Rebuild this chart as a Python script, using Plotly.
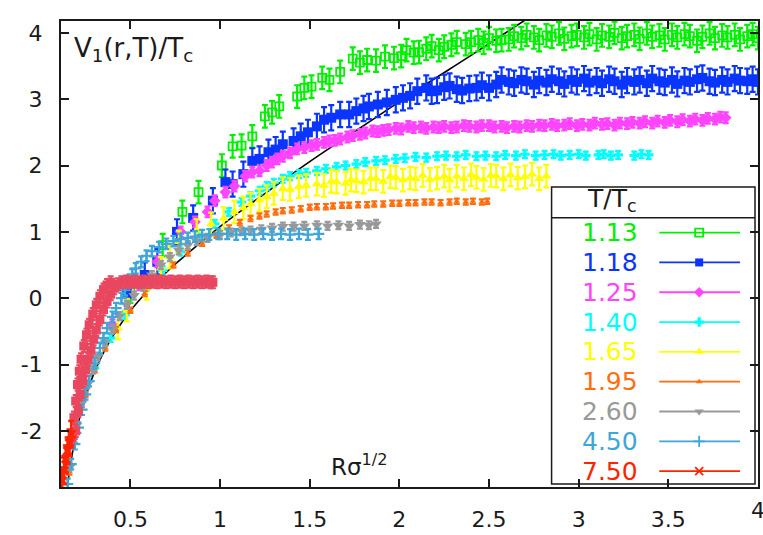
import plotly.graph_objects as go

# ---------------------------------------------------------------
# V_1(r,T)/T_c versus r*sqrt(sigma) for several temperatures T/T_c
# ---------------------------------------------------------------

# shared far-distance grid used by the two lowest temperatures
r_far = [2.61, 2.64, 2.68, 2.71, 2.75, 2.78, 2.82, 2.85, 2.89, 2.92,
         2.96, 2.99, 3.03, 3.06, 3.10, 3.13, 3.17, 3.20, 3.24, 3.27,
         3.31, 3.34, 3.38, 3.41, 3.45, 3.48, 3.52, 3.55, 3.59, 3.62,
         3.66, 3.69, 3.73, 3.76, 3.80, 3.83, 3.87, 3.90, 3.94, 3.97,
         4.00]

# T/Tc = 1.13
r_113 = [0.50, 0.68, 0.79, 0.88, 1.01, 1.07, 1.12, 1.18, 1.25, 1.29,
         1.33, 1.43, 1.47, 1.51, 1.57, 1.61, 1.67, 1.74, 1.78, 1.82,
         1.87, 1.92, 1.97, 2.01, 2.04, 2.08, 2.11, 2.15, 2.18, 2.22,
         2.25, 2.29, 2.32, 2.37, 2.40, 2.44, 2.47, 2.50, 2.54, 2.57] + r_far
v_113 = [0.10, 0.80, 1.30, 1.60, 2.00, 2.29, 2.30, 2.44, 2.74, 2.80,
         2.89, 3.04, 3.17, 3.19, 3.32, 3.29, 3.41, 3.61, 3.55, 3.59,
         3.58, 3.64, 3.62, 3.65, 3.74, 3.70, 3.71, 3.76, 3.80, 3.74,
         3.79, 3.82, 3.86, 3.83, 3.86, 3.89, 3.85, 3.92, 3.88, 3.89,
         3.90, 3.95, 3.92, 3.97, 3.93, 3.89, 3.96, 3.94, 3.99, 3.91,
         3.95, 3.97, 3.93, 3.98, 3.90, 3.96, 3.94, 4.00, 3.92, 3.95,
         3.97, 3.91, 3.99, 3.94, 3.96, 3.90, 3.97, 3.93, 3.98, 3.95,
         3.88, 3.94, 3.99, 3.92, 3.96, 3.93, 3.97, 3.90, 3.95, 3.98,
         3.92]

# T/Tc = 1.18
r_118 = [0.48, 0.58, 0.65, 0.76, 0.85, 0.96, 1.03, 1.07, 1.13, 1.18,
         1.22, 1.27, 1.31, 1.35, 1.41, 1.45, 1.49, 1.54, 1.58, 1.62,
         1.67, 1.72, 1.76, 1.80, 1.83, 1.88, 1.93, 1.98, 2.02, 2.06,
         2.10, 2.15, 2.18, 2.21, 2.25, 2.28, 2.32, 2.35, 2.39, 2.43,
         2.46, 2.50, 2.54, 2.57] + r_far
v_118 = [0.07, 0.35, 0.55, 1.00, 1.21, 1.47, 1.75, 1.72, 1.87, 2.07,
         2.10, 2.20, 2.24, 2.32, 2.37, 2.44, 2.50, 2.59, 2.69, 2.72,
         2.77, 2.77, 2.82, 2.86, 2.89, 2.92, 2.95, 2.99, 3.02, 3.05,
         3.12, 3.17, 3.12, 3.13, 3.18, 3.20, 3.15, 3.13, 3.16, 3.17,
         3.21, 3.17, 3.22, 3.29,
         3.26, 3.24, 3.29, 3.27, 3.22, 3.28, 3.25, 3.30, 3.27, 3.23,
         3.29, 3.26, 3.31, 3.25, 3.28, 3.24, 3.30, 3.27, 3.22, 3.28,
         3.26, 3.29, 3.24, 3.31, 3.27, 3.25, 3.29, 3.23, 3.28, 3.26,
         3.30, 3.32, 3.27, 3.25, 3.29, 3.26, 3.31, 3.28, 3.27, 3.30,
         3.26]

# T/Tc = 1.25
r_125 = [0.40, 0.55, 0.65, 0.78, 0.86, 0.93, 0.97, 1.03, 1.08, 1.14,
         1.18, 1.22, 1.26, 1.29, 1.32, 1.35, 1.39, 1.43, 1.47, 1.51,
         1.54, 1.58, 1.61, 1.64, 1.67, 1.71, 1.74, 1.78, 1.81, 1.85,
         1.88, 1.91, 1.94, 1.98, 2.01, 2.05, 2.08, 2.12, 2.15, 2.19,
         2.22, 2.25, 2.29, 2.32, 2.36, 2.39, 2.43, 2.46, 2.50, 2.53,
         2.57, 2.60, 2.64, 2.67, 2.71, 2.74, 2.78, 2.81, 2.85, 2.88,
         2.92, 2.95, 2.99, 3.02, 3.06, 3.09, 3.13, 3.16, 3.20, 3.23,
         3.27, 3.30, 3.34, 3.37, 3.41, 3.44, 3.48, 3.51, 3.55, 3.58,
         3.62, 3.65, 3.69, 3.72, 3.76, 3.79, 3.82]
v_125 = [-0.40, 0.20, 0.55, 1.00, 1.15, 1.30, 1.47, 1.60, 1.69, 1.84,
         1.90, 1.92, 2.00, 2.05, 2.10, 2.14, 2.19, 2.25, 2.27, 2.30,
         2.32, 2.35, 2.37, 2.38, 2.40, 2.43, 2.45, 2.47, 2.49, 2.52,
         2.51, 2.53, 2.54, 2.56, 2.55, 2.59, 2.57, 2.58, 2.56, 2.58,
         2.57, 2.59, 2.57, 2.58, 2.60, 2.59, 2.58, 2.60, 2.60, 2.58,
         2.59, 2.57, 2.59, 2.58, 2.60, 2.59, 2.61, 2.60, 2.62, 2.60,
         2.61, 2.63, 2.60, 2.62, 2.61, 2.64, 2.62, 2.63, 2.61, 2.64,
         2.63, 2.65, 2.64, 2.66, 2.64, 2.67, 2.65, 2.68, 2.66, 2.69,
         2.67, 2.70, 2.68, 2.71, 2.70, 2.73, 2.72]

# T/Tc = 1.40
r_140 = [0.30, 0.39, 0.47, 0.58, 0.68, 0.78, 0.88, 0.97, 1.05, 1.12,
         1.17, 1.22, 1.26, 1.30, 1.35, 1.39, 1.44, 1.48, 1.54, 1.59,
         1.65, 1.70, 1.76, 1.81, 1.87, 1.92, 1.98, 2.03, 2.09, 2.15,
         2.21, 2.26, 2.32, 2.37, 2.43, 2.48, 2.54, 2.59, 2.65, 2.70,
         2.76, 2.81, 2.86, 2.90, 2.95, 3.00, 3.04, 3.11, 3.14, 3.18,
         3.22, 3.31, 3.35, 3.39]
v_140 = [-1.05, -0.60, -0.25, 0.12, 0.42, 0.70, 0.92, 1.12, 1.30, 1.45,
         1.54, 1.62, 1.69, 1.74, 1.80, 1.84, 1.87, 1.89, 1.92, 1.95,
         1.98, 2.00, 2.02, 2.05, 2.07, 2.08, 2.10, 2.11, 2.13, 2.12,
         2.14, 2.15, 2.14, 2.16, 2.14, 2.15, 2.14, 2.16, 2.15, 2.17,
         2.15, 2.16, 2.17, 2.15, 2.16, 2.17, 2.15, 2.16, 2.17, 2.15,
         2.16, 2.15, 2.17, 2.16]

# T/Tc = 1.65
r_165 = [0.43, 0.48, 0.59, 0.67, 0.72, 0.77, 0.87, 0.95, 1.02, 1.08,
         1.13, 1.17, 1.22, 1.26, 1.30, 1.35, 1.39, 1.44, 1.48, 1.54,
         1.58, 1.62, 1.65, 1.70, 1.73, 1.76, 1.80, 1.84, 1.87, 1.91,
         1.95, 1.98, 2.02, 2.06, 2.09, 2.13, 2.17, 2.21, 2.25, 2.28,
         2.32, 2.36, 2.40, 2.43, 2.47, 2.51, 2.54, 2.58, 2.62, 2.66,
         2.70, 2.74, 2.78, 2.82]
v_165 = [-0.45, -0.18, 0.15, 0.45, 0.62, 0.85, 1.02, 1.12, 1.20, 1.30,
         1.36, 1.42, 1.48, 1.53, 1.58, 1.65, 1.64, 1.68, 1.70, 1.72,
         1.70, 1.76, 1.75, 1.73, 1.78, 1.77, 1.75, 1.80, 1.80, 1.76,
         1.83, 1.82, 1.78, 1.81, 1.80, 1.85, 1.79, 1.81, 1.84, 1.78,
         1.84, 1.80, 1.86, 1.82, 1.79, 1.85, 1.84, 1.80, 1.86, 1.81,
         1.83, 1.87, 1.80, 1.84]

# T/Tc = 1.95
r_195 = [0.16, 0.20, 0.25, 0.30, 0.36, 0.42, 0.50, 0.58, 0.66, 0.74,
         0.82, 0.90, 0.98, 1.05, 1.11, 1.17, 1.22, 1.26, 1.31, 1.35,
         1.40, 1.45, 1.50, 1.54, 1.59, 1.63, 1.68, 1.72, 1.77, 1.82,
         1.86, 1.91, 1.96, 2.00, 2.05, 2.09, 2.14, 2.18, 2.23, 2.28,
         2.32, 2.37, 2.41, 2.46, 2.49]
v_195 = [-2.62, -1.98, -1.45, -1.08, -0.75, -0.47, -0.18, 0.07, 0.30, 0.50,
         0.68, 0.83, 0.95, 1.06, 1.14, 1.20, 1.24, 1.27, 1.30, 1.32,
         1.33, 1.35, 1.37, 1.38, 1.38, 1.39, 1.40, 1.40, 1.41, 1.41,
         1.42, 1.42, 1.43, 1.43, 1.44, 1.44, 1.45, 1.45, 1.44, 1.45,
         1.46, 1.45, 1.46, 1.45, 1.46]

# T/Tc = 2.60
r_260 = [0.16, 0.18, 0.20, 0.23, 0.26, 0.29, 0.32, 0.36, 0.40, 0.44,
         0.48, 0.52, 0.57, 0.62, 0.67, 0.72, 0.77, 0.82, 0.87, 0.93,
         1.00, 1.06, 1.12, 1.17, 1.23, 1.29, 1.35, 1.41, 1.47, 1.54,
         1.60, 1.66, 1.72, 1.78, 1.83, 1.87]
v_260 = [-2.55, -2.20, -1.92, -1.58, -1.30, -1.08, -0.88, -0.66, -0.47, -0.27,
         -0.10, 0.04, 0.18, 0.35, 0.50, 0.62, 0.72, 0.80, 0.86, 0.91,
         0.95, 0.99, 1.01, 1.02, 1.04, 1.06, 1.08, 1.08, 1.09, 1.10,
         1.09, 1.10, 1.09, 1.11, 1.10, 1.12]

# T/Tc = 4.50
r_450 = [0.15, 0.17, 0.19, 0.21, 0.23, 0.25, 0.27, 0.30, 0.33, 0.35,
         0.37, 0.40, 0.42, 0.45, 0.47, 0.49, 0.51, 0.53, 0.56, 0.59,
         0.62, 0.66, 0.70, 0.74, 0.78, 0.82, 0.86, 0.90, 0.94, 0.99,
         1.04, 1.09, 1.14, 1.19, 1.24, 1.29, 1.34, 1.39, 1.44, 1.49,
         1.55]
v_450 = [-2.80, -2.50, -2.20, -1.95, -1.68, -1.45, -1.25, -0.98, -0.75, -0.60,
         -0.45, -0.28, -0.15, 0.00, 0.12, 0.24, 0.36, 0.45, 0.55, 0.64,
         0.71, 0.77, 0.82, 0.86, 0.89, 0.91, 0.93, 0.95, 0.96, 0.97,
         0.97, 0.96, 0.97, 0.96, 0.97, 0.96, 0.97, 0.96, 0.97, 0.96,
         0.97]

# T/Tc = 7.50 (shortest distances)
r_750 = [0.12, 0.13, 0.14, 0.15, 0.16, 0.17]
v_750 = [-2.75, -2.60, -2.42, -2.30, -2.18, -2.05]

# T/Tc = 7.50 (remaining distances)
r_750b = [0.175, 0.185, 0.195, 0.205, 0.215, 0.225, 0.24, 0.255, 0.27, 0.29,
          0.31, 0.33, 0.35, 0.37, 0.39,
          0.195, 0.21, 0.22, 0.235, 0.25, 0.265, 0.28, 0.295, 0.31, 0.33,
          0.35, 0.37, 0.39, 0.41, 0.43,
          0.45, 0.475, 0.50, 0.525, 0.55, 0.575, 0.60, 0.625, 0.65, 0.675,
          0.70, 0.725, 0.75, 0.775, 0.80, 0.825, 0.85, 0.875, 0.90, 0.925,
          0.95, 0.96]
v_750b = [-2.10, -1.80, -1.55, -1.30, -1.10, -0.92, -0.72, -0.55, -0.40, -0.24,
          -0.10, 0.03, 0.13, 0.20, 0.24,
          -2.00, -1.70, -1.45, -1.25, -1.08, -0.92, -0.78, -0.62, -0.48, -0.32,
          -0.17, -0.05, 0.06, 0.15, 0.21,
          0.24, 0.25, 0.24, 0.25, 0.24, 0.25, 0.24, 0.25, 0.24, 0.25,
          0.24, 0.25, 0.24, 0.25, 0.24, 0.25, 0.24, 0.25, 0.24, 0.25,
          0.24, 0.24]

# zero-temperature Cornell-type reference curve
r_curve = [0.15, 0.16, 0.18, 0.20, 0.22, 0.25, 0.30, 0.35, 0.40, 0.50,
           0.60, 0.70, 0.80, 1.00, 1.20, 1.50, 1.80, 2.10, 2.40, 2.70, 2.80]
v_curve = [-2.81, -2.61, -2.28, -2.00, -1.77, -1.48, -1.11, -0.82, -0.58, -0.19,
           0.12, 0.39, 0.63, 1.08, 1.48, 2.06, 2.60, 3.14, 3.66, 4.19, 4.36]

x_ticks = [0.5, 1, 1.5, 2, 2.5, 3, 3.5, 4]
x_ticklabels = ["0.5", "1", "1.5", "2", "2.5", "3", "3.5", "4"]
y_ticks = [-2, -1, 0, 1, 2, 3, 4]
y_ticklabels = ["-2", "-1", "0", "1", "2", "3", "4"]

# label, r, V, error, colour, symbol, size, outline width
series = [
    ("1.13", r_113, v_113, 0.17, "#00f000", "square-open", 8, 1.8),
    ("1.18", r_118, v_118, 0.19, "#0a35ff", "square", 10, 0),
    ("1.25", r_125, v_125, 0.08, "#ff44ff", "diamond", 9, 0),
    ("1.40", r_140, v_140, 0.06, "#00ffff", "cross", 8, 0),
    ("1.65", r_165, v_165, 0.17, "#ffff00", "triangle-up", 9, 0),
    ("1.95", r_195, v_195, 0.04, "#ff6e0e", "triangle-up", 6, 0),
    ("2.60", r_260, v_260, 0.06, "#999999", "triangle-down", 10, 0),
    ("4.50", r_450, v_450, 0.08, "#3fa6d9", "cross-thin", 8, 2.2),
]
col_750 = "#ff2400"
col_750b = "#e8475f"

FONT = "DejaVu Sans"
INK = "#1a1a1a"

fig = go.Figure()

fig.add_trace(go.Scatter(
    x=r_curve, y=v_curve, mode="lines",
    line=dict(color="black", width=1.6, shape="spline"),
    showlegend=False, hoverinfo="skip"))

for name, r, v, err, col, sym, size, lw in series:
    fig.add_trace(go.Scatter(
        x=r, y=v, mode="markers", name=name, showlegend=False,
        marker=dict(symbol=sym, size=size, color=col,
                    line=dict(color=col, width=lw)),
        error_y=dict(type="constant", value=err, color=col,
                     thickness=2.2, width=3)))

fig.add_trace(go.Scatter(
    x=r_750b, y=v_750b, mode="markers", showlegend=False,
    marker=dict(symbol="square", size=9, color=col_750b),
    error_y=dict(type="constant", value=0.09, color=col_750b,
                 thickness=2.2, width=3)))
fig.add_trace(go.Scatter(
    x=r_750, y=v_750, mode="markers", name="7.50", showlegend=False,
    marker=dict(symbol="x-thin", size=8, color=col_750,
                line=dict(color=col_750, width=3)),
    error_y=dict(type="constant", value=0.2, color=col_750,
                 thickness=2.5, width=3)))

# ---- key box, drawn on a pixel-space overlay axis ----
shapes = [
    dict(type="rect", xref="x2", yref="y2", x0=553, x1=757, y0=188, y1=487,
         line=dict(color=INK, width=1.5), fillcolor="white", layer="below"),
    dict(type="line", xref="x2", yref="y2", x0=553, x1=757, y0=219, y1=219,
         line=dict(color=INK, width=1.5)),
]
annotations = [
    dict(text="T/T<sub>c</sub>", xref="x2", yref="y2", x=586, y=201,
         xanchor="left", yanchor="middle", showarrow=False,
         font=dict(family=FONT, size=25, color=INK)),
    dict(text="V<sub>1</sub>(r,T)/T<sub>c</sub>", xref="x2", yref="y2",
         x=72, y=50, xanchor="left", yanchor="middle", showarrow=False,
         font=dict(family=FONT, size=26, color=INK)),
    dict(text="R\u03c3<sup>1/2</sup>", xref="x2", yref="y2",
         x=330, y=468, xanchor="left", yanchor="middle", showarrow=False,
         font=dict(family=FONT, size=23, color=INK)),
    # last x tick label sits on the right frame edge and is cut by the page
    dict(text=x_ticklabels[-1], xref="paper", yref="paper", x=1.0, y=-0.051,
         xanchor="center", yanchor="middle", showarrow=False,
         font=dict(family=FONT, size=22, color=INK)),
]

key_entries = [(s[0], s[4], s[5], s[6], s[7]) for s in series]
key_entries.append(("7.50", col_750, "x-thin", 8, 2.5))
for i, (name, col, sym, size, lw) in enumerate(key_entries):
    yk = 234 + 30 * i
    annotations.append(dict(
        text=name, xref="x2", yref="y2", x=642, y=yk, xanchor="right",
        yanchor="middle", showarrow=False,
        font=dict(family=FONT, size=25, color=col)))
    shapes.append(dict(type="line", xref="x2", yref="y2", x0=661, x1=742,
                       y0=yk, y1=yk, line=dict(color=col, width=1.8)))
    fig.add_trace(go.Scatter(
        x=[701], y=[yk], xaxis="x2", yaxis="y2", mode="markers",
        showlegend=False, hoverinfo="skip",
        marker=dict(symbol=sym, size=min(size, 8), color=col,
                    line=dict(color=col, width=min(lw, 1.8)))))

axis_common = dict(
    showgrid=False, zeroline=False, showline=True, linewidth=2,
    linecolor=INK, mirror="allticks", ticks="inside", ticklen=8,
    tickwidth=1.5, tickcolor=INK,
    tickfont=dict(family=FONT, size=22, color=INK))

fig.update_layout(
    width=763, height=535,
    margin=dict(l=61, r=3, t=21, b=45, pad=0),
    paper_bgcolor="white", plot_bgcolor="white",
    showlegend=False,
    xaxis=dict(range=[0.113, 4.0], tickvals=x_ticks, ticktext=x_ticklabels,
               ticklabelstandoff=12, **axis_common),
    yaxis=dict(range=[-2.845, 4.178], tickvals=y_ticks, ticktext=y_ticklabels,
               ticklabelstandoff=12, **axis_common),
    xaxis2=dict(overlaying="x", anchor="y2", range=[61, 760], visible=False),
    yaxis2=dict(overlaying="y", anchor="x2", range=[490, 21], visible=False),
    shapes=shapes, annotations=annotations,
)

fig.write_html("out.html")
